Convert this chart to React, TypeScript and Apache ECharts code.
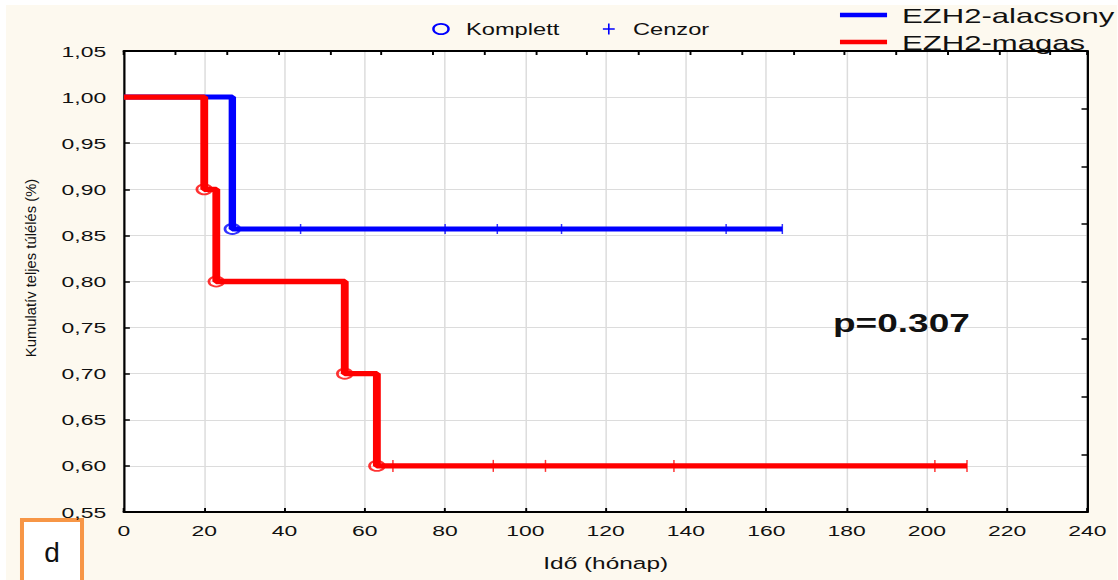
import React, { useEffect, useRef } from "react";
import * as echarts from "echarts";

// Kaplan–Meier overall survival by EZH2 expression (months on x, cumulative survival on y)
const lowTimes = [0, 27, 164];
const lowSurvival = [1, 0.857, 0.857];
const lowEventTimes = [27];
const lowEventSurvival = [0.857];
const lowCensorTimes = [44, 80, 93, 109, 150, 164];
const lowCensorSurvival = [0.857, 0.857, 0.857, 0.857, 0.857, 0.857];

const highTimes = [0, 20, 23, 55, 63, 210];
const highSurvival = [1, 0.9, 0.8, 0.7, 0.6, 0.6];
const highEventTimes = [20, 23, 55, 63];
const highEventSurvival = [0.9, 0.8, 0.7, 0.6];
const highCensorTimes = [67, 92, 105, 137, 202, 210];
const highCensorSurvival = [0.6, 0.6, 0.6, 0.6, 0.6, 0.6];

const seriesNames = ["EZH2-alacsony", "EZH2-magas"];
const markerNames = ["Komplett", "Cenzor"];
const pValueText = "p=0.307";
const panelLetter = "d";
const xTitle = "Idő (hónap)";
const yTitle = "Kumulatív teljes túlélés (%)";

const X_MIN = 0;
const X_MAX = 240;
const X_STEP = 20;
const Y_MIN = 0.55;
const Y_MAX = 1.05;
const Y_STEP = 0.05;

// The whole figure is drawn narrow and widened horizontally
const SX = 1.48;
const W = 1112 / SX;
const H = 575;

const BLUE = "#0000ff";
const RED = "#ff0000";
const FONT = "Liberation Sans";

const zip = (xs: number[], ys: number[]) => xs.map((x, i) => [x, ys[i]]);

export default function App() {
  const ref = useRef<HTMLDivElement>(null);

  useEffect(() => {
    if (!ref.current) return;
    const chart = echarts.init(ref.current, undefined, { renderer: "svg" });

    const option: any = {
      animation: false,
      backgroundColor: "#fdf9ef",
      grid: {
        left: 79.7,
        right: 20.3,
        top: 46,
        bottom: 68,
        show: true,
        backgroundColor: "#ffffff",
        borderWidth: 0,
      },
      xAxis: [
        {
          type: "value",
          min: X_MIN,
          max: X_MAX,
          interval: X_STEP,
          position: "bottom",
          name: xTitle,
          nameLocation: "middle",
          nameGap: 43,
          nameTextStyle: { fontFamily: FONT, fontSize: 16.5, color: "#111" },
          axisLine: { show: true, onZero: false, lineStyle: { color: "#000", width: 2 } },
          axisTick: { show: true, inside: true, length: 4, lineStyle: { color: "#000", width: 1.3 } },
          axisLabel: {
            show: true,
            margin: 10,
            fontFamily: FONT,
            fontSize: 15.5,
            color: "#111",
            showMinLabel: true,
            showMaxLabel: true,
          },
          splitLine: { show: true, lineStyle: { color: "#dcdcdc", width: 1 } },
        },
        {
          type: "value",
          min: 0,
          max: 18.72,
          interval: 1,
          position: "top",
          axisLine: { show: true, onZero: false, lineStyle: { color: "#000", width: 2 } },
          axisTick: { show: true, inside: true, length: 4, lineStyle: { color: "#000", width: 1.3 } },
          axisLabel: { show: false },
          splitLine: { show: false },
        },
      ],
      yAxis: [
        {
          type: "value",
          min: Y_MIN,
          max: Y_MAX,
          interval: Y_STEP,
          position: "left",
          axisLine: { show: true, onZero: false, lineStyle: { color: "#000", width: 1.5 } },
          axisTick: { show: true, inside: true, length: 4, lineStyle: { color: "#000", width: 1.5 } },
          axisLabel: {
            show: true,
            margin: 12,
            fontFamily: FONT,
            fontSize: 15.5,
            color: "#111",
            showMinLabel: true,
            showMaxLabel: true,
            formatter: (v: number) => v.toFixed(2).replace(".", ","),
          },
          splitLine: { show: true, lineStyle: { color: "#dcdcdc", width: 1 } },
        },
        {
          type: "value",
          min: 0,
          max: 8,
          interval: 1,
          position: "right",
          axisLine: { show: true, onZero: false, lineStyle: { color: "#000", width: 1.5 } },
          axisTick: { show: true, inside: true, length: 4, lineStyle: { color: "#000", width: 1.5 } },
          axisLabel: { show: false },
          splitLine: { show: false },
        },
      ],
      series: [
        {
          name: seriesNames[0],
          type: "line",
          step: "end",
          data: zip(lowTimes, lowSurvival),
          showSymbol: false,
          lineStyle: { color: BLUE, width: 5 },
          z: 3,
        },
        {
          name: seriesNames[1],
          type: "line",
          step: "end",
          data: zip(highTimes, highSurvival),
          showSymbol: false,
          lineStyle: { color: RED, width: 5.3 },
          z: 3,
        },
        {
          type: "scatter",
          data: zip(lowCensorTimes, lowCensorSurvival),
          symbol: "rect",
          symbolSize: [1, 10],
          itemStyle: { color: BLUE },
          z: 4,
        },
        {
          type: "scatter",
          data: zip(highCensorTimes, highCensorSurvival),
          symbol: "rect",
          symbolSize: [1, 12],
          itemStyle: { color: RED },
          z: 4,
        },
        {
          type: "scatter",
          data: zip(lowEventTimes, lowEventSurvival),
          symbol: "circle",
          symbolSize: 10,
          itemStyle: { color: "rgba(0,0,0,0)", borderColor: BLUE, borderWidth: 1.8 },
          z: 5,
        },
        {
          type: "scatter",
          data: zip(highEventTimes, highEventSurvival),
          symbol: "circle",
          symbolSize: 10,
          itemStyle: { color: "rgba(0,0,0,0)", borderColor: RED, borderWidth: 1.8 },
          z: 5,
        },
      ],
      graphic: [
        // marker key
        {
          type: "circle",
          shape: { cx: 293.9, cy: 24, r: 5.1 },
          style: { fill: "none", stroke: BLUE, lineWidth: 1.7 },
        },
        {
          type: "text",
          x: 310.8,
          y: 24,
          style: { text: markerNames[0], fontFamily: FONT, fontSize: 16, fill: "#111", align: "left", verticalAlign: "middle" },
        },
        {
          type: "line",
          shape: { x1: 403.3, y1: 24, x2: 411.3, y2: 24 },
          style: { stroke: BLUE, lineWidth: 1.5 },
        },
        {
          type: "line",
          shape: { x1: 407.3, y1: 18.5, x2: 407.3, y2: 29.5 },
          style: { stroke: BLUE, lineWidth: 1.1 },
        },
        {
          type: "text",
          x: 423.6,
          y: 24,
          style: { text: markerNames[1], fontFamily: FONT, fontSize: 16, fill: "#111", align: "left", verticalAlign: "middle" },
        },
        // series key
        {
          type: "line",
          shape: { x1: 563.5, y1: 10, x2: 595.3, y2: 10 },
          style: { stroke: BLUE, lineWidth: 4.5 },
        },
        {
          type: "text",
          x: 605.4,
          y: 11,
          style: { text: seriesNames[0], fontFamily: FONT, fontSize: 21, fill: "#111", align: "left", verticalAlign: "middle" },
        },
        {
          type: "line",
          shape: { x1: 563.5, y1: 37, x2: 595.3, y2: 37 },
          style: { stroke: RED, lineWidth: 4.5 },
        },
        {
          type: "text",
          x: 605.4,
          y: 37.8,
          style: { text: seriesNames[1], fontFamily: FONT, fontSize: 21, fill: "#111", align: "left", verticalAlign: "middle" },
        },
        // log-rank p-value
        {
          type: "text",
          x: 558.8,
          y: 318,
          z: 10,
          style: { text: pValueText, fontFamily: FONT, fontSize: 25, fontWeight: "bold", fill: "#111", align: "left", verticalAlign: "middle" },
        },
        // y axis title, kept unstretched
        {
          type: "text",
          x: 16.9,
          y: 263,
          rotation: Math.PI / 2,
          scaleY: 1 / SX,
          style: { text: yTitle, fontFamily: FONT, fontSize: 14.8, fill: "#111", align: "center", verticalAlign: "middle" },
        },
        // panel letter box, kept unstretched
        {
          type: "group",
          x: 10.8,
          y: 515,
          scaleX: 1 / SX,
          children: [
            {
              type: "rect",
              shape: { x: 0, y: 0, width: 60, height: 70 },
              style: { fill: "#ffffff", stroke: "#f79646", lineWidth: 4 },
            },
            {
              type: "text",
              x: 30,
              y: 33,
              style: { text: panelLetter, fontFamily: FONT, fontSize: 28, fill: "#111", align: "center", verticalAlign: "middle" },
            },
          ],
        },
      ],
    };

    chart.setOption(option);
    return () => chart.dispose();
  }, []);

  return (
    <div
      style={{
        position: "fixed",
        left: 0,
        top: 0,
        width: 1118,
        height: 580,
        background: "#ffffff",
        overflow: "hidden",
      }}
    >
      <div
        ref={ref}
        style={{
          position: "absolute",
          left: 6,
          top: 5,
          width: W,
          height: H,
          transform: `scaleX(${SX})`,
          transformOrigin: "0 0",
        }}
      />
    </div>
  );
}
